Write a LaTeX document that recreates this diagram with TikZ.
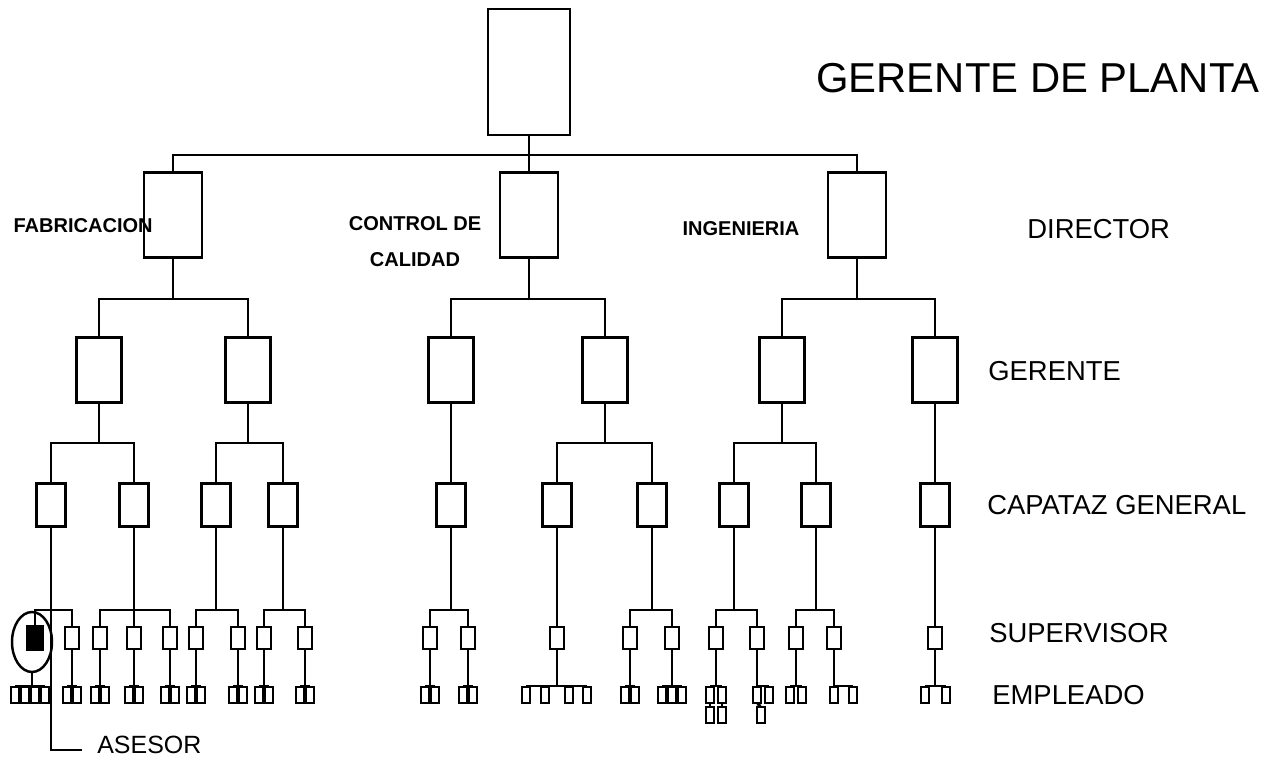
\documentclass[tikz,border=0pt]{standalone}
\usepackage{fontspec}
\setmainfont{Liberation Sans}
\usetikzlibrary{shapes.geometric}
\tikzset{
  box/.style={rectangle, draw=black, line width=1.4pt, inner sep=0pt},
  topbox/.style={box, minimum width=1.64cm, minimum height=2.52cm},
  dirbox/.style={box, minimum width=1.16cm, minimum height=1.7cm},
  gerbox/.style={box, minimum width=0.9cm, minimum height=1.3cm},
  capbox/.style={box, minimum width=0.58cm, minimum height=0.86cm},
  supbox/.style={box, minimum width=0.28cm, minimum height=0.44cm},
  empbox/.style={box, line width=1.2pt, minimum width=0.16cm, minimum height=0.32cm},
  link/.style={line width=1.3pt},
  rank/.style={anchor=west, inner sep=0pt, font=\fontsize{15.6}{19}\selectfont},
  dept/.style={inner sep=0pt, font=\bfseries\fontsize{11.4}{20.5}\selectfont},
}
% parent, drop to the bar, children
\newcommand{\branch}[3]{\foreach \kid in {#3}{\draw[link] (#1.south) -- ++(0,#2) -| (\kid.north);}}
% supervisor, name prefix, x of each empleado
\newcommand{\staff}[3]{\foreach \ex [count=\n] in {#3}{%
  \node[empbox] (#2-\n) at (\ex,695) {};
  \draw[link] (#1.south) |- (#2-\n.north);}}

\begin{document}
\begin{tikzpicture}[x=0.02cm, y=-0.02cm]
  \useasboundingbox (0,0) rectangle (1275,761);

  % gerente de planta y directores
  \node[topbox] (planta) at (529,72) {};
  \node[anchor=west, inner sep=0pt, font=\fontsize{23.8}{28}\selectfont] (titulo) at (816,78) {GERENTE DE PLANTA};
  \node[dirbox] (fab) at (173,215) {};
  \node[dirbox] (cal) at (529,215) {};
  \node[dirbox] (ing) at (857,215) {};
  \node[dept, anchor=east] (lfab) at (153,226) {FABRICACION};
  \node[dept, align=center] (lcal) at (415,242) {CONTROL DE\\CALIDAD};
  \node[dept] (ling) at (741,229) {INGENIERIA};
  \branch{planta}{19}{fab,cal,ing}

  % gerentes
  \node[gerbox] (gf1) at (99,370) {};
  \node[gerbox] (gf2) at (248,370) {};
  \node[gerbox] (gc1) at (451,370) {};
  \node[gerbox] (gc2) at (605,370) {};
  \node[gerbox] (gi1) at (782,370) {};
  \node[gerbox] (gi2) at (935,370) {};
  \branch{fab}{40}{gf1,gf2}
  \branch{cal}{40}{gc1,gc2}
  \branch{ing}{40}{gi1,gi2}

  % capataces generales
  \node[capbox] (kf1) at (51,505) {};
  \node[capbox] (kf2) at (134,505) {};
  \node[capbox] (kf3) at (216,505) {};
  \node[capbox] (kf4) at (283,505) {};
  \node[capbox] (kc1) at (451,505) {};
  \node[capbox] (kc2) at (557,505) {};
  \node[capbox] (kc3) at (652,505) {};
  \node[capbox] (ki1) at (734,505) {};
  \node[capbox] (ki2) at (816,505) {};
  \node[capbox] (ki3) at (935,505) {};
  \branch{gf1}{39}{kf1,kf2}
  \branch{gf2}{39}{kf3,kf4}
  \branch{gc1}{39}{kc1}
  \branch{gc2}{39}{kc2,kc3}
  \branch{gi1}{39}{ki1,ki2}
  \branch{gi2}{39}{ki3}

  % supervisores
  \node[ellipse, draw, line width=1.4pt, inner sep=0pt, minimum width=0.8cm, minimum height=1.2cm] (ovalo) at (32,642) {};
  \node[box, fill=black, minimum width=0.3cm, minimum height=0.46cm] (asesor) at (35,638) {};
  \foreach \sx [count=\i] in {72,100,134,170,196,238,264,305}
    \node[supbox] (sf\i) at (\sx,638) {};
  \foreach \sx [count=\i] in {430,468,557,630,672}
    \node[supbox] (sc\i) at (\sx,638) {};
  \foreach \sx [count=\i] in {716,757,796,834,935}
    \node[supbox] (si\i) at (\sx,638) {};
  \branch{kf1}{82}{asesor,sf1}
  \branch{kf2}{82}{sf2,sf3,sf4}
  \branch{kf3}{82}{sf5,sf6}
  \branch{kf4}{82}{sf7,sf8}
  \branch{kc1}{82}{sc1,sc2}
  \branch{kc2}{82}{sc3}
  \branch{kc3}{82}{sc4,sc5}
  \branch{ki1}{82}{si1,si2}
  \branch{ki2}{82}{si3,si4}
  \branch{ki3}{82}{si5}

  % empleados
  \staff{ovalo}{ea}{15,25,35,45}
  \staff{sf1}{ef1}{67,77}
  \staff{sf2}{ef2}{95,105}
  \staff{sf3}{ef3}{129,139}
  \staff{sf4}{ef4}{165,175}
  \staff{sf5}{ef5}{191,201}
  \staff{sf6}{ef6}{233,243}
  \staff{sf7}{ef7}{259,269}
  \staff{sf8}{ef8}{300,310}
  \staff{sc1}{ec1}{425,435}
  \staff{sc2}{ec2}{463,473}
  \staff{sc3}{ec3}{526,545,569,587}
  \staff{sc4}{ec4}{625,635}
  \staff{sc5}{ec5}{662,672,682}
  \staff{si1}{ei1}{710,722}
  \staff{si2}{ei2}{757,769}
  \staff{si3}{ei3}{790,802}
  \staff{si4}{ei4}{834,853}
  \staff{si5}{ei5}{925,946}
  \node[empbox] (ej1) at (710,715) {};
  \node[empbox] (ej2) at (722,715) {};
  \node[empbox] (ej3) at (761,715) {};
  \draw[link] (ei1-1.south) -- (ej1.north);
  \draw[link] (ei1-2.south) -- (ej2.north);
  \draw[link] (ei2-1.south) -- (ej3.north);

  % asesor
  \coordinate (asr) at (82,750);
  \draw[link] (kf1.south) |- (asr);
  \node[anchor=west, inner sep=0pt, font=\fontsize{14.2}{17}\selectfont] (lasesor) at (97,745) {ASESOR};

  % niveles
  \node[rank] (ndir) at (1027,229) {DIRECTOR};
  \node[rank] (nger) at (988,371) {GERENTE};
  \node[rank] (ncap) at (987,505) {CAPATAZ GENERAL};
  \node[rank] (nsup) at (989,633) {SUPERVISOR};
  \node[rank] (nemp) at (992,695) {EMPLEADO};
\end{tikzpicture}
\end{document}
